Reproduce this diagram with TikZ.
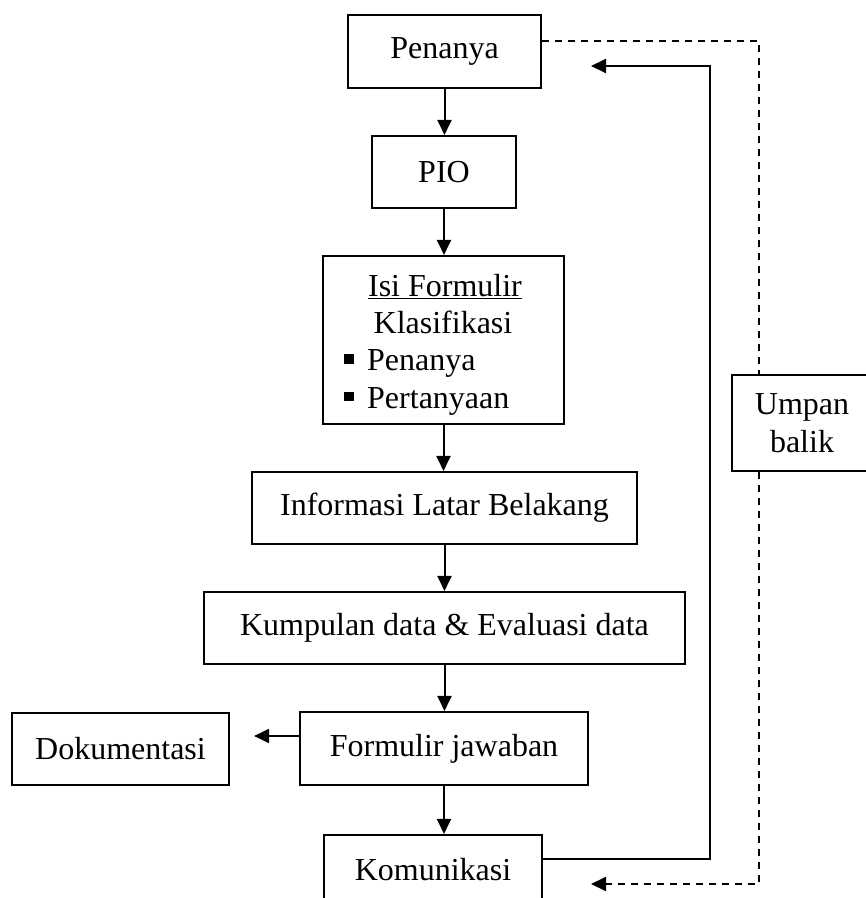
\documentclass[tikz,border=0pt]{standalone}
\usepackage{fontspec}
\setmainfont{Liberation Serif}
\usetikzlibrary{arrows.meta}
\begin{document}
\begin{tikzpicture}[x=1pt,y=-1pt,
  box/.style={draw, line width=2.1pt, inner sep=0pt, align=center,
    font=\fontsize{32}{37.5}\selectfont},
  txt/.style={inner sep=0pt, font=\fontsize{32}{37.5}\selectfont},
  conn/.style={line width=2pt},
  arr/.style={conn, -{Triangle[length=15pt,width=14pt]}},
  dashline/.style={line width=2pt, dash pattern=on 7pt off 6pt}]
\useasboundingbox (0,0) rectangle (866,898);
\clip (0,0) rectangle (866,898);
% boxes
\node[box, minimum width=193pt, minimum height=73pt] (pen) at (444.5,51.5) {Penanya};
\node[box, minimum width=144pt, minimum height=72pt] (pio) at (444,172) {PIO};
\node[box, minimum width=241pt, minimum height=168pt] (isi) at (443.5,340) {};
\node[box, minimum width=385pt, minimum height=72pt] (inf) at (444.5,508) {Informasi Latar Belakang};
\node[box, minimum width=481pt, minimum height=72pt] (kum) at (444.5,628) {Kumpulan data \& Evaluasi data};
\node[box, minimum width=288pt, minimum height=73pt] (form) at (444,748.5) {Formulir jawaban};
\node[box, minimum width=217pt, minimum height=72pt] (dok) at (120.5,749) {Dokumentasi};
\node[box, minimum width=218pt, minimum height=70pt] (kom) at (433,870) {Komunikasi};
\node[box, minimum width=140pt, minimum height=96pt] (ump) at (802,423) {Umpan\\balik};
% text inside Isi Formulir box
\node[txt, anchor=base] (isi1) at (445,296) {\underline{Isi Formulir}};
\node[txt, anchor=base] (isi2) at (443,333.5) {Klasifikasi};
\node[txt, anchor=base west] (isi3) at (344,370.5) {\raisebox{7pt}{\rule{9.5pt}{9.5pt}}\hspace{13.5pt}Penanya};
\node[txt, anchor=base west] (isi4) at (344,408) {\raisebox{7pt}{\rule{9.5pt}{9.5pt}}\hspace{13.5pt}Pertanyaan};
% main flow
\draw[arr] (pen.south) -- (pen.south |- pio.north);
\draw[arr] (pio.south) -- (pio.south |- isi.north);
\draw[arr] (isi.south) -- (isi.south |- inf.north);
\draw[arr] (inf.south) -- (inf.south |- kum.north);
\draw[arr] (kum.south) -- (kum.south |- form.north);
\draw[arr] (form.south) -- (form.south |- kom.north);
% to Dokumentasi
\coordinate (fw) at (300,736);
\draw[arr, shorten >=24pt] (fw) -- (fw -| dok.east);
% solid return
\coordinate (r1) at (710,859);
\coordinate (r2) at (710,66);
\coordinate (r3) at (591,66);
\draw[arr] (kom.east |- r1) -- (r1) -- (r2) -- (r3);
% dashed feedback
\coordinate (d1) at (759,41);
\coordinate (d2) at (759,884);
\coordinate (d3) at (591,884);
\draw[dashline] (pen.east |- d1) -- (d1) -- (d1 |- ump.north);
\draw[dashline, -{Triangle[length=15pt,width=14pt]}] (d1 |- ump.south) -- (d2) -- (d3);
\end{tikzpicture}
\end{document}
